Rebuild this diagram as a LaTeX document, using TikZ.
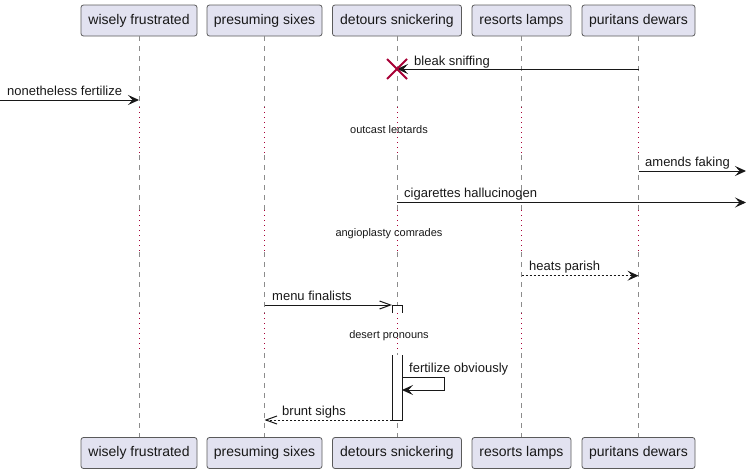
\documentclass[tikz,border=0pt]{standalone}
\usepackage{fontspec}
\setmainfont{Liberation Sans}
\usetikzlibrary{arrows.meta}
\definecolor{pfill}{HTML}{E2E2F0}
\definecolor{pline}{HTML}{181818}
\definecolor{pborder}{HTML}{5A5A5A}
\definecolor{lifec}{HTML}{8C8C8C}
\definecolor{crim}{HTML}{A80036}
\begin{document}
\begin{tikzpicture}[x=1pt,y=-1pt,
  part/.style={draw=pborder, line width=0.8pt, fill=pfill, rounded corners=2.5pt,
    minimum height=31pt, inner sep=0pt, text=pline, font=\fontsize{14}{16}\selectfont},
  lifedash/.style={draw=lifec, line width=1pt, dash pattern=on 5pt off 5pt},
  lifedot/.style={draw=crim, line width=1pt, dash pattern=on 1pt off 4pt},
  msg/.style={draw=pline, line width=1pt, -{Stealth[length=11pt,width=10pt,inset=4.5pt]}},
  dmsg/.style={msg, dash pattern=on 2pt off 2pt},
  omsg/.style={draw=pline, line width=1pt, -{Straight Barb[length=11pt,width=8pt]}},
  domsg/.style={omsg, dash pattern=on 2pt off 2pt},
  lbl/.style={anchor=base west, inner sep=0pt, text=pline, font=\fontsize{13}{15}\selectfont},
  dlbl/.style={anchor=base, inner sep=0pt, text=pline, font=\fontsize{11}{13}\selectfont},
  actbox/.style={draw=pline, line width=1pt, fill=white},
  cross/.style={draw=crim, line width=2pt}
]
\useasboundingbox (0,0) rectangle (746,474);

% participants (top)
\node[part, minimum width=116pt] (wt) at (139,20.5) {wisely frustrated};
\node[part, minimum width=115pt] (pt) at (264.5,20.5) {presuming sixes};
\node[part, minimum width=129pt] (dt) at (397,20.5) {detours snickering};
\node[part, minimum width=99pt]  (rt) at (521.5,20.5) {resorts lamps};
\node[part, minimum width=113pt] (ut) at (638.5,20.5) {puritans dewars};

% lifelines
\foreach \n in {w,p,d,r,u}{
  \draw[lifedash] (\n t.south) -- (\n t |- 0,107);
  \draw[lifedot]  (\n t |- 0,107) -- (\n t |- 0,155);
  \draw[lifedash] (\n t |- 0,155) -- (\n t |- 0,210);
  \draw[lifedot]  (\n t |- 0,210) -- (\n t |- 0,252);
  \draw[lifedash] (\n t |- 0,252) -- (\n t |- 0,313);
  \draw[lifedot]  (\n t |- 0,313) -- (\n t |- 0,353);
  \draw[lifedash] (\n t |- 0,353) -- (\n t |- 0,437);
}

% participants (bottom)
\node[part, minimum width=116pt] (wb) at (139,453) {wisely frustrated};
\node[part, minimum width=115pt] (pb) at (264.5,453) {presuming sixes};
\node[part, minimum width=129pt] (db) at (397,453) {detours snickering};
\node[part, minimum width=99pt]  (rb) at (521.5,453) {resorts lamps};
\node[part, minimum width=113pt] (ub) at (638.5,453) {puritans dewars};

% activation of detours snickering
\coordinate (a1tl) at (392,305);
\coordinate (a1tr) at (402,305);
\coordinate (a2bl) at (392,420);
\coordinate (a2br) at (402,420);
\fill[white] (392,305) rectangle (402,313);
\draw[actbox] (392,313) -- (a1tl) -- (a1tr) -- (402,313);
\fill[white] (392,355) rectangle (402,420);
\draw[actbox] (392,355) -- (a2bl) -- (a2br) -- (402,355);

% 1 bleak sniffing
\coordinate (x1) at (dt |- 0,69);
\draw[msg] (ut |- 0,69) -- (x1);
\draw[cross] ([shift={(-10,-10)}]x1) -- ([shift={(10,10)}]x1)
             ([shift={(-10,10)}]x1) -- ([shift={(10,-10)}]x1);
\node[lbl] (l1) at (414,65) {bleak sniffing};

% 2 nonetheless fertilize
\coordinate (lft) at (0,100);
\draw[msg] (lft) -- (wt |- 0,100);
\node[lbl] (l2) at (7,95.5) {nonetheless fertilize};

% delay 1
\node[dlbl] (d1) at (389,133.5) {outcast leotards};

% 3 amends faking
\coordinate (rgt1) at (746,171);
\draw[msg] (ut |- 0,171) -- (rgt1);
\node[lbl] (l3) at (645,166) {amends faking};

% 4 cigarettes hallucinogen
\coordinate (rgt2) at (746,202.5);
\draw[msg] (dt |- 0,202.5) -- (rgt2);
\node[lbl] (l4) at (404,197) {cigarettes hallucinogen};

% delay 2
\node[dlbl] (d2) at (389,236) {angioplasty comrades};

% 5 heats parish
\draw[dmsg] (rt |- 0,275.7) -- (ut |- 0,275.7);
\node[lbl] (l5) at (529,270) {heats parish};

% 6 menu finalists
\draw[omsg] (pt |- 0,305) -- (a1tl);
\node[lbl] (l6) at (272,300) {menu finalists};

% delay 3
\node[dlbl] (d3) at (389,338.7) {desert pronouns};

% 7 fertilize obviously (self)
\coordinate (s1) at (402,377.7);
\coordinate (s2) at (444,377.7);
\coordinate (s3) at (444,390);
\coordinate (s4) at (402,390);
\draw[msg] (s1) -- (s2) -- (s3) -- (s4);
\node[lbl] (l7) at (409,372.7) {fertilize obviously};

% 8 brunt sighs
\draw[domsg] (a2bl) -- (pt |- 0,420);
\node[lbl] (l8) at (282,415) {brunt sighs};
\end{tikzpicture}
\end{document}
